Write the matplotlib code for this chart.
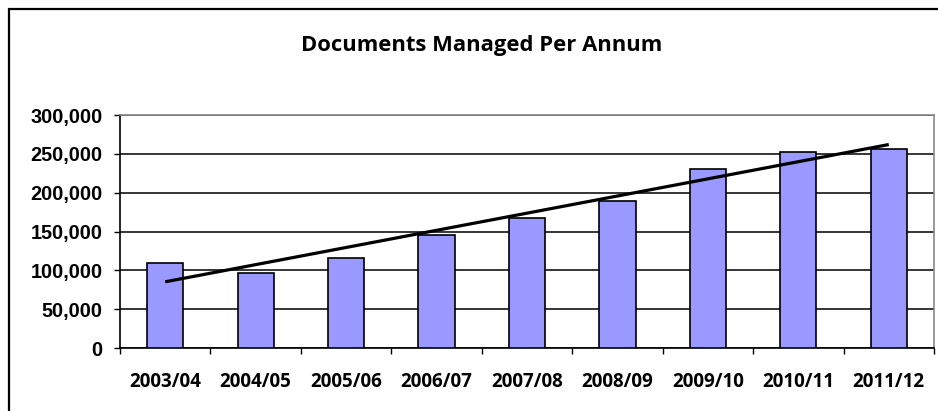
import matplotlib.pyplot as plt
import matplotlib.patches as patches
from matplotlib.ticker import FuncFormatter, FixedLocator
import numpy as np

# chart data
years = ['2003/04', '2004/05', '2005/06', '2006/07', '2007/08',
         '2008/09', '2009/10', '2010/11', '2011/12']
documents = [109000, 97000, 116500, 145500, 167000, 189000, 230000, 252000, 256500]
y_ticks = [0, 50000, 100000, 150000, 200000, 250000, 300000]


def create_chart():
    fig = plt.figure(figsize=(9.38, 4.11), dpi=100)
    ax = fig.add_axes([120 / 938, 1 - 348 / 411, 814 / 938, 233 / 411])

    x = np.arange(len(years))

    # bars
    ax.bar(x, documents, width=0.4, color='#9999FF', edgecolor='black',
           linewidth=1.2, zorder=3)

    # linear trend line
    slope, intercept = np.polyfit(x, documents, 1)
    ax.plot(x, slope * x + intercept, color='black', linewidth=2.3,
            solid_capstyle='butt', zorder=4)

    ax.set_xlim(-0.5, len(years) - 0.5)
    ax.set_ylim(y_ticks[0], y_ticks[-1])

    # y axis
    ax.set_yticks(y_ticks)
    ax.yaxis.set_major_formatter(FuncFormatter(lambda v, p: f'{int(v):,}'))
    ax.tick_params(axis='y', direction='out', length=4.5, width=1,
                   pad=8, colors='black')
    for lbl in ax.get_yticklabels():
        lbl.set_fontfamily('Liberation Sans')
        lbl.set_fontweight('bold')
        lbl.set_fontsize(14.3)

    # x axis: labels at centres, ticks at category boundaries
    ax.set_xticks(x)
    ax.set_xticklabels(years, fontfamily='Open Sans', fontweight='bold', fontsize=13.5)
    ax.tick_params(axis='x', which='major', length=0, pad=17)
    ax.xaxis.set_minor_locator(FixedLocator(np.arange(-0.5, len(years), 1.0)))
    ax.tick_params(axis='x', which='minor', length=4, width=1, direction='out')

    # grid
    ax.yaxis.grid(True, color='black', linewidth=1.1, zorder=1)
    ax.set_axisbelow(True)

    # spines
    ax.spines['left'].set_color('black')
    ax.spines['bottom'].set_color('black')
    ax.spines['left'].set_linewidth(1.2)
    ax.spines['bottom'].set_linewidth(1.2)
    ax.spines['top'].set_color('#888888')
    ax.spines['right'].set_color('#888888')
    ax.spines['top'].set_linewidth(1.2)
    ax.spines['right'].set_linewidth(1.2)

    # title
    fig.text(482 / 938, 1 - 45 / 411, 'Documents Managed Per Annum',
             ha='center', va='center', fontfamily='Open Sans', fontweight='bold',
             fontsize=15.8)

    # outer chart frame (cut off on right and bottom)
    frame = patches.Rectangle((9 / 938, -0.1), 1.2, 1.1 - 9 / 411,
                              transform=fig.transFigure, fill=False,
                              edgecolor='black', linewidth=1.6)
    fig.patches.append(frame)

    return fig


if __name__ == "__main__":
    fig = create_chart()
    fig.savefig('out.png', dpi=100, facecolor='white')
